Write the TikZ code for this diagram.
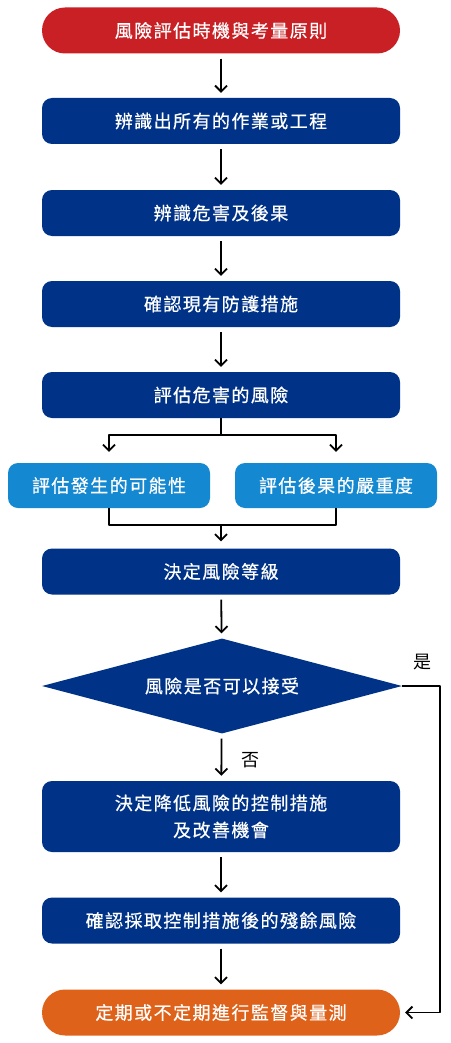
\documentclass[tikz,border=0pt]{standalone}
\usepackage{fontspec}
\newfontfamily\cjk[LetterSpace=8,FakeBold=0.6]{Noto Sans CJK TC}
\newfontfamily\cjknhan{Noto Sans CJK TC}
\usetikzlibrary{arrows.meta,shapes.geometric}
\definecolor{hongse}{RGB}{200,32,36}
\definecolor{lanse}{RGB}{0,51,135}
\definecolor{qianlan}{RGB}{20,136,208}
\definecolor{chengse}{RGB}{222,98,26}
\tikzset{
	buoc/.style={fill=lanse, rounded corners=10pt, minimum width=358pt, minimum height=46pt, text=white, inner sep=0pt, align=center, font=\cjk\fontsize{18}{27}\selectfont},
	dau/.style={buoc, fill=hongse, rounded corners=23pt},
	nhanh/.style={buoc, fill=qianlan, minimum width=202pt, minimum height=45pt},
	hoi/.style={diamond, aspect=3.79, fill=lanse, minimum width=360pt, minimum height=95pt, inner sep=0pt, text=white, font=\cjk\fontsize{18}{20}\selectfont},
	muiten/.style={-{Straight Barb[length=6pt,width=12pt]}, line width=1.8pt, shorten <=5pt, shorten >=5pt},
	noi/.style={line width=1.8pt},
	nhan/.style={font=\cjknhan\fontsize{18}{20}\selectfont}
}
\begin{document}
\begin{tikzpicture}[x=1pt,y=-1pt, line join=round]
	\useasboundingbox (0,0) rectangle (450,1043);
	\node[dau] (A) at (221,30.5) {風險評估時機與考量原則};
	\node[buoc] (B) at (221,121) {辨識出所有的作業或工程};
	\node[buoc] (C) at (221,213) {辨識危害及後果};
	\node[buoc] (D) at (221,304) {確認現有防護措施};
	\node[buoc] (E) at (221,395) {評估危害的風險};
	\node[nhanh] (F1) at (109,485.5) {評估發生的可能性};
	\node[nhanh] (F2) at (336,485.5) {評估後果的嚴重度};
	\node[buoc] (G) at (221,571.5) {決定風險等級};
	\node[hoi] (H) at (222,686) {風險是否可以接受};
	\node[buoc, minimum height=71pt] (K) at (221,816.5) {決定降低風險的控制措施\\及改善機會};
	\node[buoc] (L) at (221,920.5) {確認採取控制措施後的殘餘風險};
	\node[dau, fill=chengse] (M) at (221,1012.5) {定期或不定期進行監督與量測};
	\path 
	(221,435) coordinate (P)
	(221,525) coordinate (Q)
	(440,686) coordinate (R)
	;
	%Các mũi tên thẳng
	\foreach \u/\v in {A/B, B/C, C/D, D/E, G/H, H/K, K/L, L/M}
	\draw[muiten] (\u) -- (\v);
	\draw[noi] (E.south) -- (P);
	\draw[muiten, shorten <=0pt, shorten >=11pt] (P) -| (F1.north);
	\draw[muiten, shorten <=0pt, shorten >=11pt] (P) -| (F2.north);
	\draw[noi] (F1.south) |- (Q) -| (F2.south);
	\draw[muiten, shorten <=0pt, shorten >=7pt] (Q) -- (G.north);
	\draw[muiten, shorten <=0pt] (H.east) -- (R) |- (M.east);
	\node[nhan] (yes) at (422,662) {是};
	\node[nhan] (no) at (250,760) {否};
\end{tikzpicture}
\end{document}
